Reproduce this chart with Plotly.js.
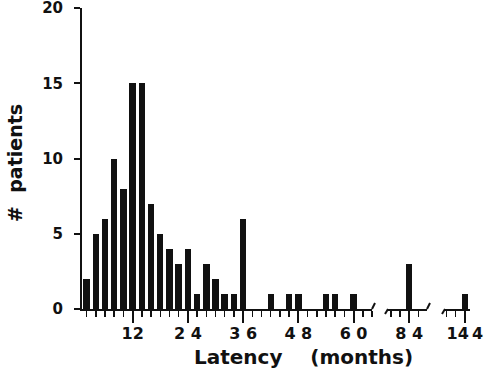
<!DOCTYPE html>
<html>
<head>
<meta charset="utf-8">
<script src="https://cdn.plot.ly/plotly-3.0.1.min.js"></script>
<style>html,body{margin:0;padding:0;background:#fff;}#chart{width:486px;height:376px;}</style>
</head>
<body>
<div id="chart"></div>
<script>
// Data
var monthsMain = [2,4,6,8,10,12,14,16,18,20,22,24,26,28,30,32,34,36,42,46,48,54,56,60];
var patientsMain = [2,5,6,10,8,15,15,7,5,4,3,4,1,3,2,1,1,6,1,1,1,1,1,1];
var months84 = [84];
var patients84 = [3];
var months144 = [144];
var patients144 = [1];

var tickValsMain = [12,24,36,48,60];
var tickTextMain = ["12","2\u00a04","3\u00a06","4\u00a08","6\u00a00"];
var tickVals84 = [84];
var tickText84 = ["8\u00a04"];
var tickVals144 = [144];
var tickText144 = ["14\u20094"];
var yTicks = [0,5,10,15,20];

var FONT = "DejaVu Sans, Liberation Sans, Arial, sans-serif";
var barColor = "#111111";
var bw = 1.4;

var dom1 = [0, 0.7474], dom2 = [0.7887, 0.8892], dom3 = [0.9356, 1];

var traces = [
  {type:"bar", x:monthsMain, y:patientsMain, width:bw, marker:{color:barColor, line:{width:0}}, xaxis:"x", yaxis:"y", hoverinfo:"x+y"},
  {type:"bar", x:months84, y:patients84, width:bw, marker:{color:barColor, line:{width:0}}, xaxis:"x2", yaxis:"y", hoverinfo:"x+y"},
  {type:"bar", x:months144, y:patients144, width:bw, marker:{color:barColor, line:{width:0}}, xaxis:"x3", yaxis:"y", hoverinfo:"x+y"}
];

function xax(domain, range, tv, tt) {
  return {
    domain: domain, range: range, anchor: "y",
    showline: true, linecolor: "#111", linewidth: 2,
    showgrid: false, zeroline: false,
    tickmode: "array", tickvals: tv, ticktext: tt,
    ticks: "outside", ticklen: 12, tickwidth: 2, tickcolor: "#111",
    ticklabelstandoff: -3,
    ticklabeloverflow: "allow",
    minor: {dtick: 2, tick0: 0, ticks: "outside", ticklen: 6, tickwidth: 1.5, tickcolor: "#111", showgrid: false},
    tickfont: {family: FONT, size: 16, color: "#111", weight: "bold"},
    fixedrange: true
  };
}

// axis-break hooks (decoration) anchored at segment ends
function brk(xpaper, dx, dy) {
  return {type:"line", xref:"paper", yref:"paper", xsizemode:"pixel", ysizemode:"pixel",
    xanchor:xpaper, yanchor:0, x0:0, y0:0, x1:dx, y1:dy,
    line:{color:"#111", width:2}, layer:"above"};
}

var layout = {
  width: 486, height: 376,
  margin: {l: 82, r: 16, t: 8, b: 67, pad: 0},
  paper_bgcolor: "#fff", plot_bgcolor: "#fff",
  showlegend: false,
  bargap: 0,
  xaxis: xax(dom1, [1, 64], tickValsMain, tickTextMain),
  xaxis2: xax(dom2, [79.4, 87.9], tickVals84, tickText84),
  xaxis3: xax(dom3, [139.7, 145.1], tickVals144, tickText144),
  yaxis: {
    range: [0, 20], tickmode: "array", tickvals: yTicks,
    showline: true, linecolor: "#111", linewidth: 2,
    showgrid: false, zeroline: false,
    ticks: "outside", ticklen: 6, tickwidth: 2, tickcolor: "#111",
    ticklabelstandoff: 8,
    ticklabeloverflow: "allow",
    tickfont: {family: FONT, size: 15, color: "#111", weight: "bold"},
    fixedrange: true
  },
  shapes: [
    brk(dom1[1], 3, 6),
    brk(dom2[0], -3, -5),
    brk(dom2[1], 3, 6),
    brk(dom3[0], -3, -5)
  ],
  annotations: [
    {text: "Latency\u00a0\u00a0\u00a0\u00a0(months)", xref: "paper", yref: "paper",
     x: 0.571, y: -0.158, xanchor: "center", yanchor: "middle", showarrow: false,
     font: {family: FONT, size: 20, color: "#111", weight: "bold"}},
    {text: "#\u00a0\u00a0patients", xref: "paper", yref: "paper", textangle: -90,
     x: -0.173, y: 0.485, xanchor: "center", yanchor: "middle", showarrow: false,
     font: {family: FONT, size: 19, color: "#111", weight: "bold"}}
  ]
};

Plotly.newPlot("chart", traces, layout, {displayModeBar: false, staticPlot: true});
</script>
</body>
</html>
